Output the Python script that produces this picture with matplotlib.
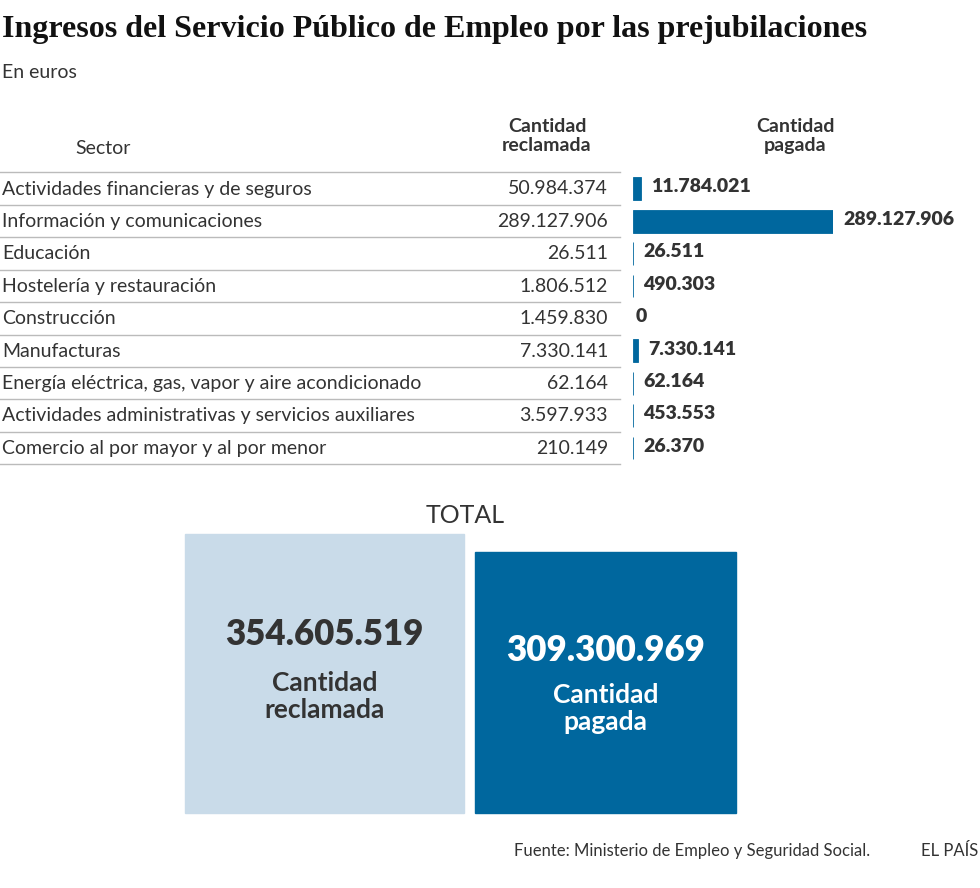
import numpy as np
import matplotlib.pyplot as plt
from matplotlib.patches import Rectangle

sectores = ['Actividades financieras y de seguros', 'Información y comunicaciones', 'Educación',
            'Hostelería y restauración', 'Construcción', 'Manufacturas',
            'Energía eléctrica, gas, vapor y aire acondicionado',
            'Actividades administrativas y servicios auxiliares',
            'Comercio al por mayor y al por menor']
reclamada = [50984374, 289127906, 26511, 1806512, 1459830, 7330141, 62164, 3597933, 210149]
pagada = [11784021, 289127906, 26511, 490303, 0, 7330141, 62164, 453553, 26370]
total_reclamada = 354605519
total_pagada = 309300969

def fmt(v):
    return f'{v:,}'.replace(',', '.')

W, H = 980, 888
fig = plt.figure(figsize=(W / 100, H / 100), dpi=100)
ax = fig.add_axes([0, 0, 1, 1])
ax.set_xlim(0, W)
ax.set_ylim(H, 0)
ax.axis('off')

dark = '#00679e'
light = '#c9dbe9'
txt = '#333333'
ff = 'Lato'

ax.text(2, 30, 'Ingresos del Servicio Público de Empleo por las prejubilaciones', fontsize=23,
        fontweight='bold', family='Liberation Serif', va='center', color='#111111')
ax.text(2, 73, 'En euros', fontsize=14, family=ff, va='center', color=txt)
ax.text(75, 148, 'Sector', fontsize=14, family=ff, va='center', color=txt)
ax.text(547, 136, 'Cantidad\nreclamada', fontsize=14, family=ff, fontweight='bold', va='center',
        ha='center', color=txt, linespacing=1.1)
ax.text(795, 136, 'Cantidad\npagada', fontsize=14, family=ff, fontweight='bold', va='center',
        ha='center', color=txt, linespacing=1.1)

y0, dy = 189, 32.4
ax.plot([0, 620], [172, 172], color='#bbbbbb', lw=1)
for i, (s, r) in enumerate(zip(sectores, reclamada)):
    y = y0 + i * dy
    ax.text(2, y, s, fontsize=14, family=ff, va='center', color=txt)
    ax.text(608, y, fmt(r), fontsize=14, family=ff, va='center', ha='right', color=txt)
    ax.plot([0, 620], [y + 16, y + 16], color='#bbbbbb', lw=1)

# bars in their own axes
bax = fig.add_axes([633 / W, 1 - (y0 + 8 * dy + 16) / H, 200 / W, (9 * dy) / H])
n = len(pagada)
ys = np.arange(n)
bax.barh(ys, pagada, height=0.7, color=dark, edgecolor=[dark if p > 0 else 'none' for p in pagada],
         linewidth=0.6)
bax.set_xlim(0, max(pagada))
bax.set_ylim(n - 0.5, -0.5)
bax.axis('off')
for i, p in enumerate(pagada):
    xw = 633 + 200 * p / max(pagada)
    ax.text(max(xw, 633) + 10 if p > 0 else 636, y0 + i * dy - 2, fmt(p), fontsize=14, family=ff,
            fontweight='heavy', va='center', color=txt)

ax.text(465, 515, 'TOTAL', fontsize=18, family=ff, va='center', ha='center', color=txt)
side_max = 279
s1 = side_max
s2 = side_max * np.sqrt(total_pagada / total_reclamada)
base = 813
ax.add_patch(Rectangle((185, base - s1), s1, s1, color=light))
ax.add_patch(Rectangle((475, base - s2), s2, s2, color=dark))
ax.text(185 + s1 / 2, 634, fmt(total_reclamada), fontsize=25, family=ff, fontweight='heavy',
        ha='center', va='center', color=txt)
ax.text(185 + s1 / 2, 696, 'Cantidad\nreclamada', fontsize=19, family=ff, fontweight='bold',
        ha='center', va='center', color=txt, linespacing=1.15)
ax.text(475 + s2 / 2, 650, fmt(total_pagada), fontsize=25, family=ff, fontweight='heavy',
        ha='center', va='center', color='white')
ax.text(475 + s2 / 2, 708, 'Cantidad\npagada', fontsize=19, family=ff, fontweight='bold',
        ha='center', va='center', color='white', linespacing=1.15)

ax.text(870, 851, 'Fuente: Ministerio de Empleo y Seguridad Social.', fontsize=12, family=ff,
        ha='right', va='center', color=txt)
ax.text(978, 851, 'EL PAÍS', fontsize=12, family=ff, ha='right', va='center', color=txt)

fig.savefig('out.png', dpi=100)
